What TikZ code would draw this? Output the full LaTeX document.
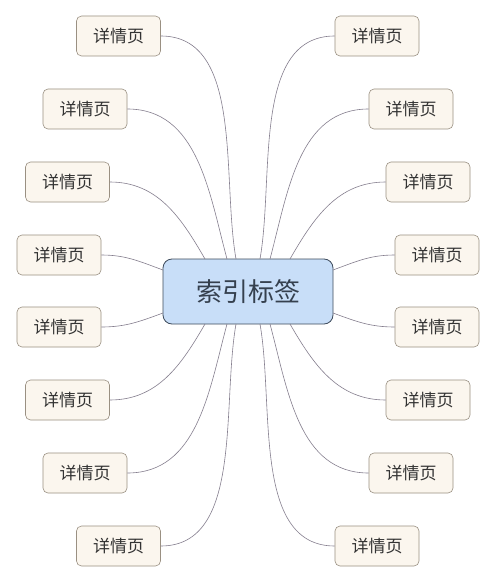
\documentclass[tikz,border=0pt]{standalone}
\usepackage{fontspec}
\newfontfamily\cjk{Noto Sans CJK SC}
\definecolor{linec}{HTML}{857E8E}
\definecolor{leaffill}{HTML}{FBF6EE}
\definecolor{leafdraw}{HTML}{9A9082}
\definecolor{rootfill}{HTML}{C8DEF8}
\definecolor{rootdraw}{HTML}{3E4B5C}
\definecolor{txt}{HTML}{333333}
\begin{document}
\begin{tikzpicture}[x=1pt,y=-1pt,
  leaf/.style={draw=leafdraw,fill=leaffill,rounded corners=5pt,minimum width=84pt,minimum height=40pt,inner sep=0pt,font=\cjk\fontsize{17}{19}\selectfont,text=txt,line width=0.6pt},
  root/.style={draw=rootdraw,fill=rootfill,rounded corners=9pt,minimum width=170pt,minimum height=65pt,inner sep=0pt,font=\cjk\fontsize{26}{29}\selectfont,text=rootdraw!85!black,line width=0.8pt},
  link/.style={draw=linec,line width=0.6pt}]
\useasboundingbox (0,0) rectangle (496,585);
\fill[white] (0,0) rectangle (496,585);
\node[root] (c) at (248,291.5) {索引标签};
% left leaves
\node[leaf] (l1) at (118.5,36) {详情页};
\node[leaf] (l2) at (85,109) {详情页};
\node[leaf] (l3) at (67.5,182) {详情页};
\node[leaf] (l4) at (59,255) {详情页};
\node[leaf] (l5) at (59,327) {详情页};
\node[leaf] (l6) at (67.5,400) {详情页};
\node[leaf] (l7) at (85,473) {详情页};
\node[leaf] (l8) at (118.5,546) {详情页};
% right leaves
\node[leaf] (r1) at (377,36) {详情页};
\node[leaf] (r2) at (411,109) {详情页};
\node[leaf] (r3) at (428,182) {详情页};
\node[leaf] (r4) at (437,255) {详情页};
\node[leaf] (r5) at (437,327) {详情页};
\node[leaf] (r6) at (428,400) {详情页};
\node[leaf] (r7) at (411,473) {详情页};
\node[leaf] (r8) at (377,546) {详情页};
% anchor points on root
\coordinate (t1) at (236,259);
\coordinate (t2) at (227,259);
\coordinate (t3) at (205,259);
\coordinate (t4) at (163,270);
\coordinate (t5) at (163,313);
\coordinate (t6) at (205,324);
\coordinate (t7) at (227,324);
\coordinate (t8) at (236,324);
\coordinate (u1) at (260,259);
\coordinate (u2) at (270,259);
\coordinate (u3) at (290,259);
\coordinate (u4) at (333,270);
\coordinate (u5) at (333,313);
\coordinate (u6) at (290,324);
\coordinate (u7) at (270,324);
\coordinate (u8) at (260,324);
\draw[link] (l1.east) to[out=0,in=100,looseness=0.9] (t1);
\draw[link] (l2.east) to[out=0,in=105] (t2);
\draw[link] (l3.east) to[out=0,in=120] (t3);
\draw[link] (l4.east) to[out=0,in=160] (t4);
\draw[link] (l5.east) to[out=0,in=-160] (t5);
\draw[link] (l6.east) to[out=0,in=-120] (t6);
\draw[link] (l7.east) to[out=0,in=-105] (t7);
\draw[link] (l8.east) to[out=0,in=-100,looseness=0.9] (t8);
\draw[link] (r1.west) to[out=180,in=80,looseness=0.9] (u1);
\draw[link] (r2.west) to[out=180,in=75] (u2);
\draw[link] (r3.west) to[out=180,in=60] (u3);
\draw[link] (r4.west) to[out=180,in=20] (u4);
\draw[link] (r5.west) to[out=180,in=-20] (u5);
\draw[link] (r6.west) to[out=180,in=-60] (u6);
\draw[link] (r7.west) to[out=180,in=-75] (u7);
\draw[link] (r8.west) to[out=180,in=-80,looseness=0.9] (u8);
\end{tikzpicture}
\end{document}
